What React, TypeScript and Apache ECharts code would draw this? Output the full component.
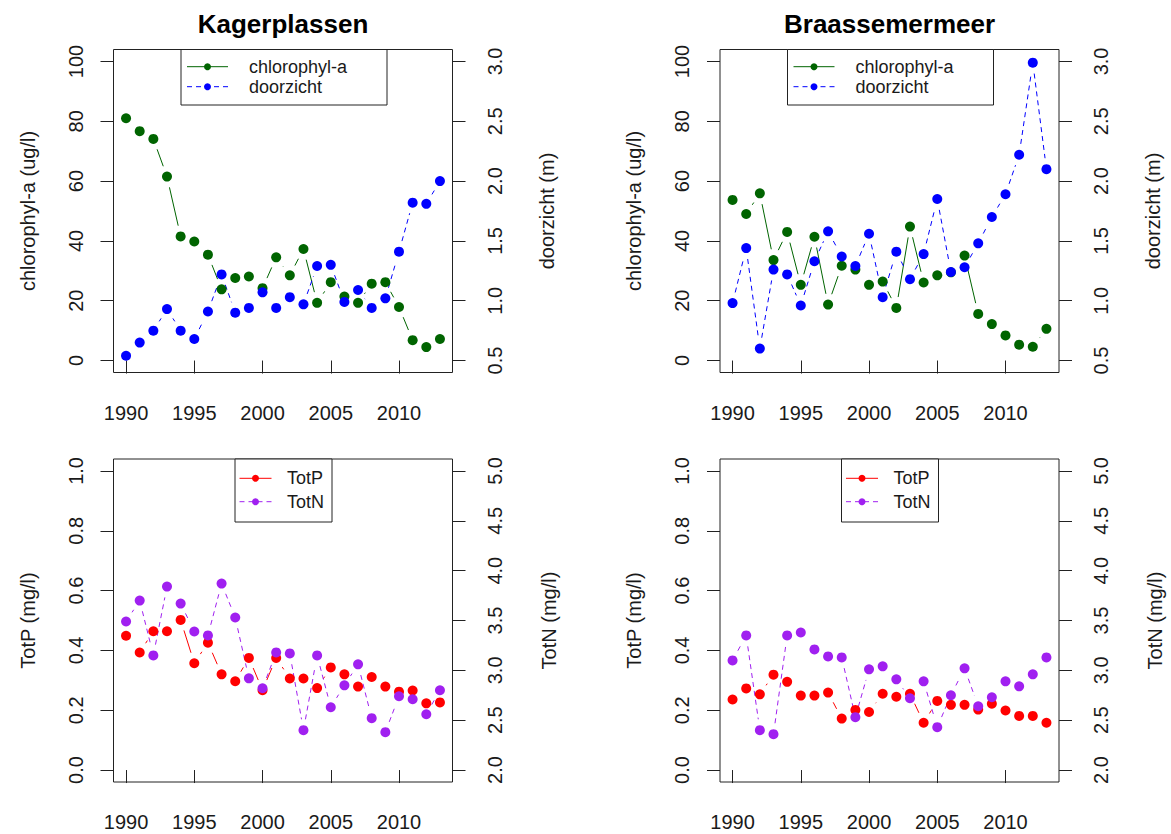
import React, { useEffect, useRef } from "react";
import * as echarts from "echarts";

// ---- data ----
const years = [
  1990, 1991, 1992, 1993, 1994, 1995, 1996, 1997, 1998, 1999, 2000, 2001,
  2002, 2003, 2004, 2005, 2006, 2007, 2008, 2009, 2010, 2011, 2012, 2013,
];

const yearTicks = [1990, 1995, 2000, 2005, 2010];
const chlTicks = [0, 20, 40, 60, 80, 100];
const secchiTicks = [0.5, 1.0, 1.5, 2.0, 2.5, 3.0];
const totPTicks = [0, 0.2, 0.4, 0.6, 0.8, 1.0];
const totNTicks = [2.0, 2.5, 3.0, 3.5, 4.0, 4.5, 5.0];

const lakes = ["Kagerplassen", "Braassemermeer"];

// chlorophyl-a (ug/l)
const kagerChl = [
  81.0, 76.7, 74.1, 61.5, 41.5, 39.8, 35.4, 23.8, 27.6, 28.1, 24.2, 34.5,
  28.5, 37.3, 19.3, 26.2, 21.4, 19.3, 25.7, 26.2, 17.9, 6.8, 4.5, 7.2,
];
const braasChl = [
  53.7, 49.0, 55.9, 33.6, 43.0, 25.3, 41.4, 18.7, 31.7, 30.4, 25.3, 26.4,
  17.6, 44.8, 26.1, 28.5, 29.5, 35.1, 15.6, 12.2, 8.4, 5.3, 4.6, 10.6,
];

// doorzicht (m)
const kagerSecchi = [
  0.54, 0.65, 0.75, 0.93, 0.75, 0.68, 0.91, 1.22, 0.9, 0.94, 1.07, 0.94,
  1.03, 0.97, 1.29, 1.3, 0.99, 1.09, 0.94, 1.02, 1.41, 1.82, 1.81, 2.0,
];
const braasSecchi = [
  0.98, 1.44, 0.6, 1.26, 1.22, 0.96, 1.33, 1.58, 1.37, 1.29, 1.56, 1.03,
  1.41, 1.18, 1.39, 1.85, 1.24, 1.28, 1.48, 1.7, 1.89, 2.22, 2.99, 2.1,
];

// TotP (mg/l)
const kagerTotP = [
  0.449, 0.393, 0.464, 0.464, 0.502, 0.357, 0.426, 0.32, 0.297, 0.375, 0.267,
  0.375, 0.306, 0.306, 0.274, 0.343, 0.32, 0.279, 0.311, 0.279, 0.262, 0.266,
  0.223, 0.226,
];
const braasTotP = [
  0.236, 0.273, 0.253, 0.319, 0.295, 0.249, 0.249, 0.259, 0.172, 0.201, 0.194,
  0.255, 0.245, 0.255, 0.158, 0.231, 0.218, 0.218, 0.202, 0.222, 0.199, 0.181,
  0.181, 0.158,
];

// TotN (mg/l)
const kagerTotN = [
  3.49, 3.7, 3.15, 3.84, 3.67, 3.39, 3.35, 3.87, 3.53, 2.92, 2.82, 3.18, 3.17,
  2.4, 3.15, 2.63, 2.85, 3.06, 2.52, 2.38, 2.74, 2.71, 2.56, 2.8,
];
const braasTotN = [
  3.1, 3.35, 2.4, 2.36, 3.35, 3.38, 3.21, 3.14, 3.13, 2.53, 3.01, 3.04, 2.91,
  2.72, 2.89, 2.43, 2.75, 3.02, 2.64, 2.73, 2.89, 2.84, 2.96, 3.13,
];

// ---- styling ----
const FONT = '"Liberation Sans", Arial, Helvetica, sans-serif';
const INK = "#1a1a1a";
const FRAME = "#222";
const GREEN = "#006400";
const BLUE = "#0000ff";
const RED = "#ff0000";
const PURPLE = "#a020f0";
const DASH = [5, 4];

const GRID_W = 339;
const GRID_H = 323;
const gridPos = [
  { left: 113.5, top: 49.5 },
  { left: 720, top: 49.5 },
  { left: 113.5, top: 459 },
  { left: 720, top: 459 },
];

// R-style axis range: data limits padded by 4% on each side
const pad = (lo: number, hi: number): [number, number] => {
  const d = (hi - lo) * 0.04;
  return [lo - d, hi + d];
};

const xRange = pad(1990, 2013);
const chlRange = pad(0, 100);
const secchiRange = pad(0.5, 3.0);
const totPRange = pad(0, 1);
const totNRange = pad(2, 5);

// gap around each point where the connecting line is left out (type "b")
const GAP = 11;

const points = (vals: number[]) => years.map((y, i) => [y, vals[i]]);
const segments = (vals: number[]) =>
  years.slice(1).map((y, i) => [years[i], vals[i], y, vals[i + 1]]);

function segmentRenderer(color: string, dash: number[] | null) {
  return (_params: any, api: any) => {
    const a = api.coord([api.value(0), api.value(1)]);
    const b = api.coord([api.value(2), api.value(3)]);
    const dx = b[0] - a[0];
    const dy = b[1] - a[1];
    const len = Math.hypot(dx, dy);
    if (len <= 2 * GAP) return null;
    const ux = dx / len;
    const uy = dy / len;
    return {
      type: "line",
      silent: true,
      shape: {
        x1: a[0] + ux * GAP,
        y1: a[1] + uy * GAP,
        x2: b[0] - ux * GAP,
        y2: b[1] - uy * GAP,
      },
      style: {
        stroke: color,
        lineWidth: 1,
        lineDash: dash || undefined,
        fill: null,
      },
    };
  };
}

function lineWithPoints(
  name: string,
  vals: number[],
  color: string,
  dash: number[] | null,
  xAxisIndex: number,
  yAxisIndex: number
) {
  return [
    {
      type: "custom",
      name,
      xAxisIndex,
      yAxisIndex,
      data: segments(vals),
      encode: { x: [0, 2], y: [1, 3] },
      renderItem: segmentRenderer(color, dash),
      silent: true,
      clip: false,
    },
    {
      type: "scatter",
      name,
      xAxisIndex,
      yAxisIndex,
      data: points(vals),
      symbol: "circle",
      symbolSize: 10,
      itemStyle: { color, opacity: 1 },
      silent: true,
    },
  ];
}

const tickStyle = { show: true, length: 13, lineStyle: { color: FRAME, width: 1 } };
const labelStyle = { fontSize: 20, fontFamily: FONT, color: INK };
const nameStyle = { fontSize: 20, fontFamily: FONT, color: INK };

function xAxisFor(gridIndex: number) {
  return {
    type: "value",
    gridIndex,
    min: xRange[0],
    max: xRange[1],
    axisLine: { show: false },
    axisTick: { ...tickStyle, customValues: yearTicks },
    axisLabel: {
      ...labelStyle,
      customValues: yearTicks,
      margin: 30,
      formatter: (v: number) => String(Math.round(v)),
    },
    splitLine: { show: false },
  };
}

function yAxisFor(
  gridIndex: number,
  position: "left" | "right",
  range: [number, number],
  ticks: number[],
  name: string,
  decimals: number,
  labelMargin: number,
  nameGap: number
) {
  return {
    type: "value",
    gridIndex,
    position,
    min: range[0],
    max: range[1],
    name,
    nameLocation: "middle",
    nameRotate: 90,
    nameGap,
    nameTextStyle: nameStyle,
    axisLine: { show: false },
    axisTick: { ...tickStyle, customValues: ticks },
    axisLabel: {
      ...labelStyle,
      customValues: ticks,
      rotate: 90,
      margin: labelMargin,
      formatter: (v: number) => v.toFixed(decimals),
    },
    splitLine: { show: false },
  };
}

// boxed legend, drawn at the top centre of a panel
function legendBox(
  box: { x: number; y: number; w: number; h: number },
  rows: number[],
  lineX: [number, number],
  textX: number,
  entries: { label: string; color: string; dash: number[] | null }[]
) {
  const children: any[] = [
    {
      type: "rect",
      shape: { x: box.x, y: box.y, width: box.w, height: box.h },
      style: { fill: "#fff", stroke: FRAME, lineWidth: 1 },
      silent: true,
    },
  ];
  entries.forEach((e, i) => {
    const y = rows[i];
    children.push({
      type: "line",
      shape: { x1: lineX[0], y1: y, x2: lineX[1], y2: y },
      style: { stroke: e.color, lineWidth: 1, lineDash: e.dash || undefined },
      silent: true,
    });
    children.push({
      type: "circle",
      shape: { cx: (lineX[0] + lineX[1]) / 2, cy: y, r: 3.5 },
      style: { fill: e.color },
      silent: true,
    });
    children.push({
      type: "text",
      x: textX,
      y,
      style: {
        text: e.label,
        fill: INK,
        fontSize: 18,
        fontFamily: FONT,
        align: "left",
        verticalAlign: "middle",
      },
      silent: true,
    });
  });
  return { type: "group", children };
}

const waterEntries = [
  { label: "chlorophyl-a", color: GREEN, dash: null },
  { label: "doorzicht", color: BLUE, dash: DASH },
];
const nutrientEntries = [
  { label: "TotP", color: RED, dash: null },
  { label: "TotN", color: PURPLE, dash: DASH },
];

function buildOption() {
  const grid = gridPos.map((g) => ({
    left: g.left,
    top: g.top,
    width: GRID_W,
    height: GRID_H,
    show: true,
    borderColor: FRAME,
    borderWidth: 1,
    backgroundColor: "transparent",
    containLabel: false,
    outerBoundsMode: "none",
  }));

  const xAxis = [0, 1, 2, 3].map(xAxisFor);

  const yAxis = [
    yAxisFor(0, "left", chlRange, chlTicks, "chlorophyl-a (ug/l)", 0, 28, 76),
    yAxisFor(0, "right", secchiRange, secchiTicks, "doorzicht (m)", 1, 32, 84),
    yAxisFor(1, "left", chlRange, chlTicks, "chlorophyl-a (ug/l)", 0, 28, 76),
    yAxisFor(1, "right", secchiRange, secchiTicks, "doorzicht (m)", 1, 32, 84),
    yAxisFor(2, "left", totPRange, totPTicks, "TotP (mg/l)", 1, 28, 76),
    yAxisFor(2, "right", totNRange, totNTicks, "TotN (mg/l)", 1, 32, 86),
    yAxisFor(3, "left", totPRange, totPTicks, "TotP (mg/l)", 1, 28, 76),
    yAxisFor(3, "right", totNRange, totNTicks, "TotN (mg/l)", 1, 32, 86),
  ];

  const series = [
    ...lineWithPoints("chlorophyl-a", kagerChl, GREEN, null, 0, 0),
    ...lineWithPoints("doorzicht", kagerSecchi, BLUE, DASH, 0, 1),
    ...lineWithPoints("chlorophyl-a", braasChl, GREEN, null, 1, 2),
    ...lineWithPoints("doorzicht", braasSecchi, BLUE, DASH, 1, 3),
    ...lineWithPoints("TotP", kagerTotP, RED, null, 2, 4),
    ...lineWithPoints("TotN", kagerTotN, PURPLE, DASH, 2, 5),
    ...lineWithPoints("TotP", braasTotP, RED, null, 3, 6),
    ...lineWithPoints("TotN", braasTotN, PURPLE, DASH, 3, 7),
  ];

  const title = lakes.map((name, i) => ({
    text: name,
    left: gridPos[i].left + GRID_W / 2,
    top: 11,
    textAlign: "center",
    padding: 0,
    textStyle: { fontSize: 26, fontWeight: "bold", fontFamily: FONT, color: "#000" },
  }));

  const shift = gridPos[1].left - gridPos[0].left;
  const graphic = [
    legendBox({ x: 181, y: 49.5, w: 206, h: 55.5 }, [66.7, 86.7], [187, 228], 249, waterEntries),
    legendBox(
      { x: 181 + shift, y: 49.5, w: 206, h: 55.5 },
      [66.7, 86.7],
      [187 + shift, 228 + shift],
      249 + shift,
      waterEntries
    ),
    legendBox({ x: 235, y: 459, w: 97, h: 63 }, [478.3, 501.7], [239.5, 271.5], 287, nutrientEntries),
    legendBox(
      { x: 235 + shift, y: 459, w: 97, h: 63 },
      [478.3, 501.7],
      [239.5 + shift, 271.5 + shift],
      287 + shift,
      nutrientEntries
    ),
  ];

  return {
    animation: false,
    backgroundColor: "#fff",
    title,
    grid,
    xAxis,
    yAxis,
    series,
    graphic,
  };
}

export default function App() {
  const ref = useRef<HTMLDivElement | null>(null);

  useEffect(() => {
    if (!ref.current) return;
    const chart = echarts.init(ref.current, undefined, { renderer: "svg" });
    chart.setOption(buildOption() as any);
    return () => chart.dispose();
  }, []);

  return (
    <div
      ref={ref}
      style={{ position: "absolute", left: 0, top: 0, width: 1171, height: 834 }}
    />
  );
}
